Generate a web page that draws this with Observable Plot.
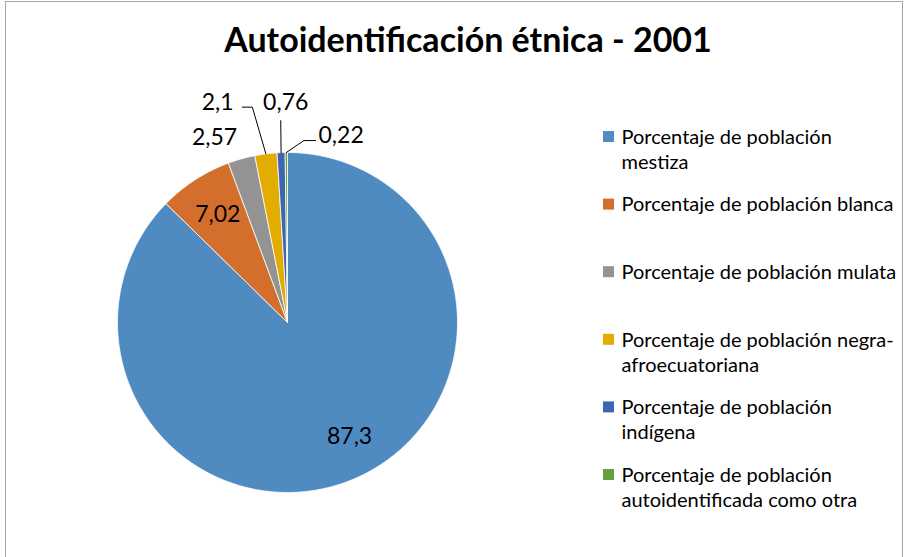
<!DOCTYPE html>
<html><head><meta charset="utf-8">
<script src="https://cdn.jsdelivr.net/npm/d3@7"></script>
<script src="https://cdn.jsdelivr.net/npm/@observablehq/plot@0.6"></script>
<style>
html,body{margin:0;padding:0;background:#fff;}
#wrap{position:relative;width:908px;height:557px;overflow:hidden;}
#border{position:absolute;left:5px;top:1px;width:898px;height:620px;border:1px solid #a6a6a6;box-sizing:border-box;pointer-events:none;}
</style></head><body>
<div id="wrap"><div id="chart"></div><div id="border"></div></div>
<script>
// ---- data ----
const title = "Autoidentificación étnica - 2001";
const categories = ["mestiza", "blanca", "mulata", "negra-afroecuatoriana", "indígena", "otra"];
const values = [87.3, 7.02, 2.57, 2.1, 0.76, 0.22];
const valueLabels = ["87,3", "7,02", "2,57", "2,1", "0,76", "0,22"];
const legendLabels = [
  "Porcentaje de población\nmestiza",
  "Porcentaje de población blanca",
  "Porcentaje de población mulata",
  "Porcentaje de población negra-\nafroecuatoriana",
  "Porcentaje de población\nindígena",
  "Porcentaje de población\nautoidentificada como otra"
];
const colors = ["#4F8BC1", "#D46E2C", "#939393", "#E3AC00", "#3D66B0", "#64A03F"];

// ---- layout (not data) ----
const W = 908, H = 557;
const cx = 287, cy = 322, R = 170;
// label placement: radius factor and angle nudge (degrees) relative to slice middle
const labelLayout = [
  {r: 0.765, da: -5.7}, {r: 0.753, da: 0}, {r: 1.17, da: -5.8},
  {r: 1.358, da: -10.3}, {r: 1.294, da: 1.7}, {r: 1.144, da: 16.4}
];
// leader lines: elbow / end offsets relative to label centre
const leaderLayout = {
  3: [[34.7, 4.7], [24.7, 4.7]],
  4: [[-5, 18], [-5, 18]],
  5: [[-37.2, 5], [-25.5, 5]]
};
const legendX = 603, legendY = 125.5, legendStep = 67.6, sq = 11;
const legendFont = 20, legendLH = 1.25;

// ---- geometry ----
const arcs = d3.pie().sort(null)(values);
const polar = (theta, r) => ({x: cx + r * Math.sin(theta), y: cy - r * Math.cos(theta)});

const slicePts = arcs.flatMap((a, i) => {
  const span = a.endAngle - a.startAngle;
  const n = Math.max(2, Math.ceil(span / (Math.PI / 360)));
  const pts = [{cat: categories[i], x: cx, y: cy}];
  for (let k = 0; k <= n; k++) {
    const t = a.startAngle + span * k / n;
    pts.push({cat: categories[i], ...polar(t, R)});
  }
  pts.push({cat: categories[i], x: cx, y: cy});
  return pts;
});

const labelData = arcs.map((a, i) => {
  const mid = (a.startAngle + a.endAngle) / 2 + labelLayout[i].da * Math.PI / 180;
  return {text: valueLabels[i], mid: (a.startAngle + a.endAngle) / 2, ...polar(mid, R * labelLayout[i].r)};
});

const leaderPts = [];
for (const [k, offs] of Object.entries(leaderLayout)) {
  const i = +k, L = labelData[i];
  leaderPts.push({id: i, ...polar(L.mid, R)});
  for (const [dx, dy] of offs) leaderPts.push({id: i, x: L.x + dx, y: L.y + dy});
}

const sqTop = 131;
const legendData = categories.map((c, i) => ({
  cat: c, label: legendLabels[i],
  x1: legendX, x2: legendX + sq,
  y1: sqTop + i * legendStep, y2: sqTop + i * legendStep + sq,
  tx: legendX + 18, ty: legendY + i * legendStep
}));

const chart = Plot.plot({
  width: W, height: H,
  margin: 0,
  style: {fontFamily: "Lato, 'Open Sans', sans-serif", background: "transparent"},
  x: {domain: [0, W], range: [0, W], axis: null},
  y: {domain: [0, H], range: [0, H], axis: null},
  color: {domain: categories, range: colors},
  marks: [
    Plot.line(slicePts, {x: "x", y: "y", z: "cat", fill: "cat", stroke: "white", strokeWidth: 0.8, curve: "linear"}),
    Plot.line(leaderPts, {x: "x", y: "y", z: "id", stroke: "#000", strokeWidth: 1, curve: "linear"}),
    Plot.text(labelData, {x: "x", y: "y", text: "text", fontSize: 23, fill: "#000"}),
    Plot.rect(legendData, {x1: "x1", x2: "x2", y1: "y1", y2: "y2", fill: "cat"}),
    Plot.text(legendData, {x: "tx", y: "ty", text: "label", textAnchor: "start", lineAnchor: "top", fontSize: legendFont, lineHeight: legendLH, fill: "#000"}),
    Plot.text([title], {x: () => 467.5, y: () => 27.6, text: d => d, lineAnchor: "top", fontSize: 34, fontWeight: "bold", fill: "#000"})
  ]
});
document.getElementById("chart").appendChild(chart);
</script>
</body></html>
